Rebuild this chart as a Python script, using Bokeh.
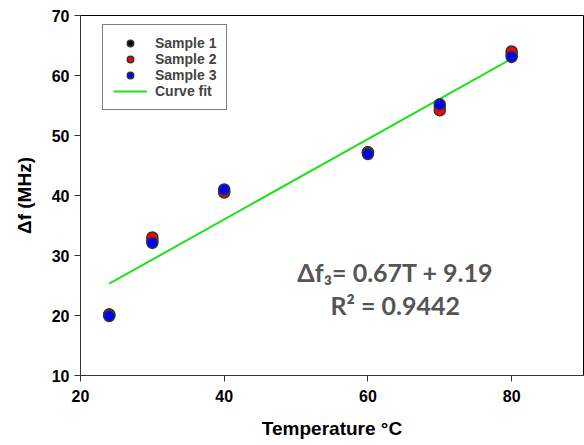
from bokeh.plotting import figure
from bokeh.models import Label, Legend, LegendItem, Range1d, FixedTicker
from bokeh.embed import file_html
from bokeh.resources import INLINE

temps = [24, 30, 40, 60, 70, 80]
sample1 = [20.1, 32.5, 40.7, 47.2, 54.8, 63.5]
sample2 = [20.2, 33.0, 40.5, 47.2, 54.2, 64.0]
sample3 = [19.9, 32.1, 41.0, 46.9, 55.2, 63.1]
fit_x = [24, 80]
fit_y = [25.3, 62.8]
x_ticks = [20, 40, 60, 80]
y_ticks = [10, 20, 30, 40, 50, 60, 70]

FONT = "Liberation Sans"

p = figure(width=584, height=445, output_backend="svg", toolbar_location=None,
           x_range=Range1d(20, 90), y_range=Range1d(10, 70),
           min_border_left=80, min_border_right=1, min_border_top=15, min_border_bottom=70)

p.xgrid.visible = False
p.ygrid.visible = False
p.outline_line_color = "black"
p.outline_line_width = 1
p.background_fill_color = "white"
p.border_fill_color = "white"

for ax in (p.xaxis[0], p.yaxis[0]):
    ax.major_label_text_font = FONT
    ax.major_label_text_font_style = "bold"
    ax.major_label_text_font_size = "16px"
    ax.major_label_text_color = "black"
    ax.axis_label_text_font = FONT
    ax.axis_label_text_font_style = "bold"
    ax.axis_label_text_font_size = "19px"
    ax.axis_label_text_color = "black"
    ax.minor_tick_line_color = None
    ax.major_tick_in = 0
    ax.major_tick_out = 6
    ax.axis_line_color = "#333333"
    ax.major_tick_line_color = "#333333"

p.xaxis.ticker = FixedTicker(ticks=x_ticks)
p.yaxis.ticker = FixedTicker(ticks=y_ticks)
p.xaxis.axis_label = "Temperature °C"
p.yaxis.axis_label = "Δf (MHz)"
p.xaxis.major_label_standoff = 8
p.xaxis.axis_label_standoff = 13
p.yaxis.major_label_standoff = 5
p.yaxis.axis_label_standoff = 14

fit = p.line(fit_x, fit_y, line_color="#22e01e", line_width=2)
r1 = p.scatter(temps, sample1, size=11, fill_color="black", line_color="#333333", line_width=1.5)
r2 = p.scatter(temps, sample2, size=11, fill_color="red", line_color="#333333", line_width=1.5)
r3 = p.scatter(temps, sample3, size=11, fill_color="blue", line_color="#333333", line_width=1.5)

legend = Legend(items=[
    LegendItem(label="Sample 1", renderers=[r1]),
    LegendItem(label="Sample 2", renderers=[r2]),
    LegendItem(label="Sample 3", renderers=[r3]),
    LegendItem(label="Curve fit", renderers=[fit]),
], location=(22, 265))
legend.label_text_font = FONT
legend.label_text_font_style = "bold"
legend.label_text_font_size = "14px"
legend.border_line_color = "black"
legend.border_line_width = 1
legend.glyph_height = 16
legend.label_height = 16
legend.spacing = 0
legend.padding = 10
legend.margin = 0
legend.glyph_width = 34
legend.label_standoff = 8
p.add_layout(legend)

eq_color = "#555555"
lab1 = Label(x=63.8, y=27.3, text="Δf₃= 0.67T + 9.19", text_align="center",
             text_baseline="middle", text_font="Lato", text_font_style="bold",
             text_font_size="25px", text_color=eq_color)
lab2 = Label(x=63.8, y=21.8, text="R² = 0.9442", text_align="center",
             text_baseline="middle", text_font="Lato", text_font_style="bold",
             text_font_size="25px", text_color=eq_color)
p.add_layout(lab1)
p.add_layout(lab2)

open("out.html", "w").write(file_html(p, INLINE))
